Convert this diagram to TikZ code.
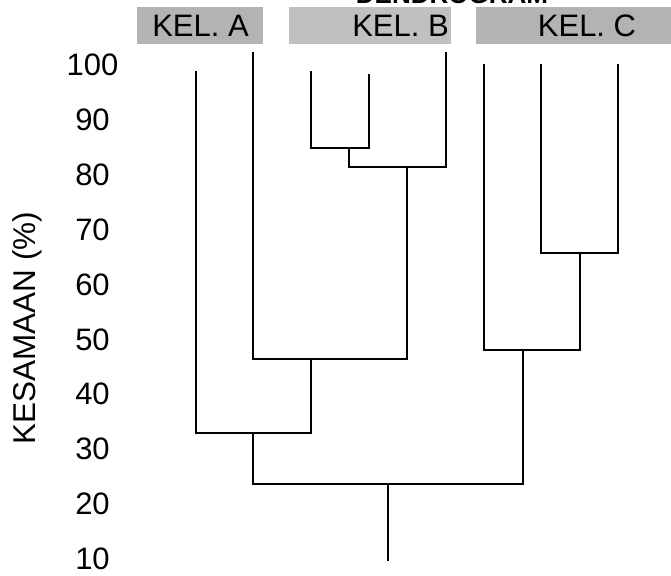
\documentclass[tikz,border=0pt]{standalone}
\usepackage{fontspec}
\setmainfont{Liberation Sans}
\definecolor{kelgelap}{HTML}{B3B3B3}
\definecolor{kelterang}{HTML}{C0C0C0}
\begin{document}
\begin{tikzpicture}[x=1pt,y=-1pt, line join=miter, line cap=butt,
	font=\fontsize{31}{36}\selectfont,
	garis/.style={line width=2pt},
	label/.style={anchor=base, inner sep=0pt}]
	\useasboundingbox (0,0) rectangle (671,575);
	\clip (0,0) rectangle (671,575);
	% judul dan kotak kelompok
	\node[label, font=\fontsize{26}{30}\selectfont\bfseries] (judul) at (452,3.5) {DENDROGRAM};
	\fill[kelgelap] (137,7) rectangle (263,44);
	\fill[kelterang] (289,7) rectangle (451,44);
	\fill[kelgelap] (476,7) rectangle (671,44);
	\node[label] (kelA) at (200.5,37) {KEL. A};
	\node[label] (kelB) at (400.5,37) {KEL. B};
	\node[label] (kelC) at (587,37) {KEL. C};
	% sumbu kesamaan
	\foreach \v in {10,20,...,100}
	\node[label] (y\v) at (92.5,{65+(100-\v)*5.48+11}) {\v};
	\node[rotate=90, font=\fontsize{31.5}{36}\selectfont] (sumbu) at (27,328) {KESAMAAN (\%)};
	% ujung cabang
	\coordinate (a1) at (196,71);
	\coordinate (a2) at (253,52);
	\coordinate (b1) at (311,71);
	\coordinate (b2) at (369,74);
	\coordinate (b3) at (446,52);
	\coordinate (c1) at (484,64);
	\coordinate (c2) at (541,64);
	\coordinate (c3) at (618,64);
	% titik gabung
	\coordinate (j1) at (349,148);
	\coordinate (j2) at (407,167);
	\coordinate (j3) at (311,359);
	\coordinate (j4) at (253,433);
	\coordinate (j5) at (580,253);
	\coordinate (j6) at (523,350);
	\coordinate (j7) at (388,484);
	\coordinate (akar) at (388,561);
	\draw[garis] (b1) |- (j1) -| (b2);
	\draw[garis] (j1) |- (j2) -| (b3);
	\draw[garis] (a2) |- (j3) -| (j2);
	\draw[garis] (a1) |- (j4) -| (j3);
	\draw[garis] (c2) |- (j5) -| (c3);
	\draw[garis] (c1) |- (j6) -| (j5);
	\draw[garis] (j4) |- (j7) -| (j6);
	\draw[garis] (j7) -- (akar);
\end{tikzpicture}
\end{document}
